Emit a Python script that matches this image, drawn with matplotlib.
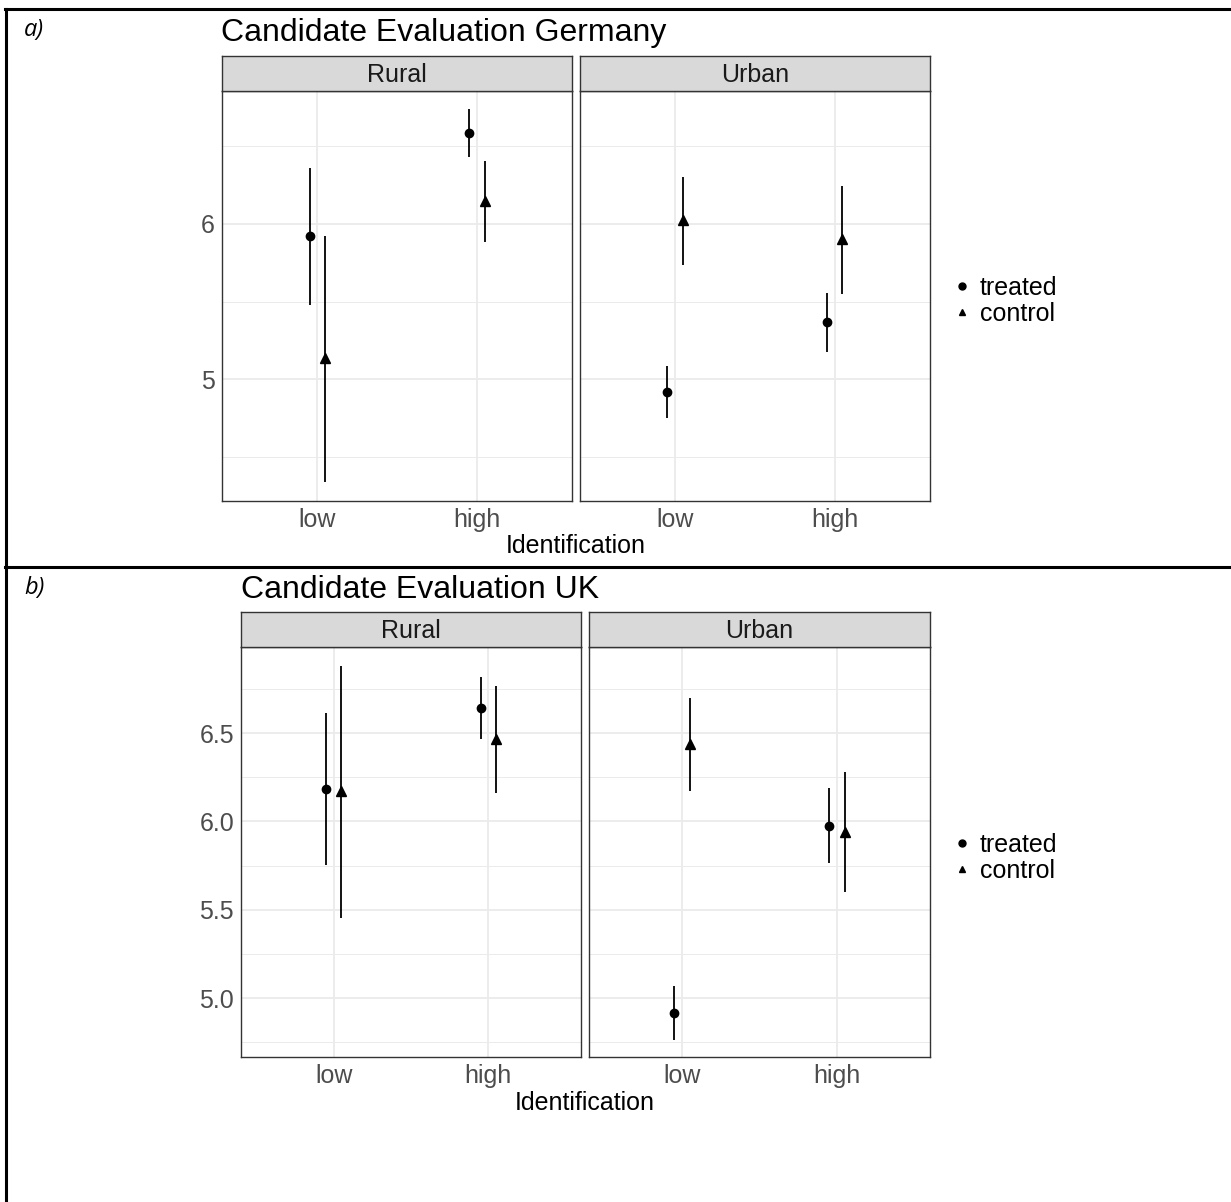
import matplotlib.pyplot as plt
from matplotlib.lines import Line2D
from matplotlib.ticker import MultipleLocator
import numpy as np

plt.rcParams['font.family'] = ['Liberation Sans', 'DejaVu Sans']

# category / facet names
levels = ['low', 'high']
areas = ['Rural', 'Urban']
groups = ['treated', 'control']

# Germany: point estimates and 95% intervals (low, high identification)
ger_rural_treated = [5.92, 6.59]
ger_rural_treated_lo = [5.48, 6.43]
ger_rural_treated_hi = [6.36, 6.74]
ger_rural_control = [5.135, 6.15]
ger_rural_control_lo = [4.335, 5.885]
ger_rural_control_hi = [5.92, 6.405]
ger_urban_treated = [4.915, 5.37]
ger_urban_treated_lo = [4.75, 5.175]
ger_urban_treated_hi = [5.085, 5.555]
ger_urban_control = [6.025, 5.90]
ger_urban_control_lo = [5.735, 5.55]
ger_urban_control_hi = [6.30, 6.245]

# UK
uk_rural_treated = [6.183, 6.644]
uk_rural_treated_lo = [5.751, 6.468]
uk_rural_treated_hi = [6.612, 6.818]
uk_rural_control = [6.173, 6.468]
uk_rural_control_lo = [5.456, 6.160]
uk_rural_control_hi = [6.882, 6.767]
uk_urban_treated = [4.917, 5.975]
uk_urban_treated_lo = [4.762, 5.762]
uk_urban_treated_hi = [5.068, 6.187]
uk_urban_control = [6.44, 5.941]
uk_urban_control_lo = [6.172, 5.601]
uk_urban_control_hi = [6.701, 6.278]

W, H = 1231, 1202
fig = plt.figure(figsize=(W / 100, H / 100), dpi=100)


def px_rect(x0, y0, x1, y1):
    return [x0 / W, 1 - y1 / H, (x1 - x0) / W, (y1 - y0) / H]


def draw_panel(rect, strip_rect, name, series, ylim, major, minor, show_y):
    ax = fig.add_axes(px_rect(*rect))
    ax.set_xlim(-0.6, 1.6)
    ax.set_ylim(*ylim)
    ax.set_xticks(range(len(levels)))
    ax.set_xticklabels(levels)
    ax.yaxis.set_major_locator(MultipleLocator(major))
    ax.yaxis.set_minor_locator(MultipleLocator(minor))
    ax.grid(True, which='major', color='#EBEBEB', lw=1.3)
    ax.grid(True, which='minor', axis='y', color='#EBEBEB', lw=0.7)
    ax.set_axisbelow(True)
    ax.tick_params(which='both', length=0, labelsize=18, labelcolor='#4D4D4D', pad=5)
    if not show_y:
        ax.tick_params(axis='y', labelleft=False)
    for s in ax.spines.values():
        s.set_color('#333333')
        s.set_linewidth(1.0)
    x = np.arange(len(levels))
    for (est, lo, hi), off, mk, ms in zip(series, [-0.05, 0.05], ['o', '^'], [6, 7]):
        ax.vlines(x + off, lo, hi, color='black', lw=1.3)
        ax.plot(x + off, est, ls='none', marker=mk, ms=ms, color='black')

    sx = fig.add_axes(px_rect(*strip_rect))
    sx.set_facecolor('#D9D9D9')
    sx.set_xticks([])
    sx.set_yticks([])
    for s in sx.spines.values():
        s.set_color('#333333')
        s.set_linewidth(1.0)
    sx.text(0.5, 0.47, name, ha='center', va='center', fontsize=18,
            color='#1A1A1A', transform=sx.transAxes)
    return ax


def legend_at(yc):
    handles = [Line2D([], [], ls='none', marker='o', ms=5, color='black'),
               Line2D([], [], ls='none', marker='^', ms=5, color='black')]
    fig.legend(handles, groups, loc='center left',
               bbox_to_anchor=(952 / W, 1 - yc / H), frameon=False,
               fontsize=18, handlelength=0.8, handletextpad=0.3,
               labelspacing=0.08, borderpad=0, borderaxespad=0)


# ---- panel a: Germany ----
ger_ylim = (4.213, 6.858)
draw_panel((222, 91, 572, 501), (222, 56, 572, 91), areas[0],
           [(ger_rural_treated, ger_rural_treated_lo, ger_rural_treated_hi),
            (ger_rural_control, ger_rural_control_lo, ger_rural_control_hi)],
           ger_ylim, 1.0, 0.5, True)
draw_panel((580, 91, 930, 501), (580, 56, 930, 91), areas[1],
           [(ger_urban_treated, ger_urban_treated_lo, ger_urban_treated_hi),
            (ger_urban_control, ger_urban_control_lo, ger_urban_control_hi)],
           ger_ylim, 1.0, 0.5, False)
fig.text(221 / W, 1 - 41 / H, 'Candidate Evaluation Germany', fontsize=23, va='baseline')
fig.text(576 / W, 1 - 546 / H, 'Identification', fontsize=18, ha='center', va='center')
legend_at(301)

# ---- panel b: UK ----
uk_ylim = (4.666, 6.988)
draw_panel((241, 647, 581, 1057), (241, 612, 581, 647), areas[0],
           [(uk_rural_treated, uk_rural_treated_lo, uk_rural_treated_hi),
            (uk_rural_control, uk_rural_control_lo, uk_rural_control_hi)],
           uk_ylim, 0.5, 0.25, True)
draw_panel((589, 647, 930, 1057), (589, 612, 930, 647), areas[1],
           [(uk_urban_treated, uk_urban_treated_lo, uk_urban_treated_hi),
            (uk_urban_control, uk_urban_control_lo, uk_urban_control_hi)],
           uk_ylim, 0.5, 0.25, False)
fig.text(241 / W, 1 - 598 / H, 'Candidate Evaluation UK', fontsize=23, va='baseline')
fig.text(585 / W, 1 - 1103 / H, 'Identification', fontsize=18, ha='center', va='center')
legend_at(858)

# panel labels and frame lines
fig.text(24 / W, 1 - 30 / H, 'a)', fontsize=17, style='italic', family='Open Sans', va='center')
fig.text(24 / W, 1 - 588 / H, 'b)', fontsize=17, style='italic', family='Open Sans', va='center')
fig.add_artist(Line2D([5 / W, 1], [1 - 8.5 / H] * 2, color='black', lw=2.2))
fig.add_artist(Line2D([6 / W] * 2, [0, 1 - 8.5 / H], color='black', lw=2.2))
fig.add_artist(Line2D([5 / W, 1], [1 - 567 / H] * 2, color='black', lw=2.2))

fig.savefig('out.png', dpi=100)
